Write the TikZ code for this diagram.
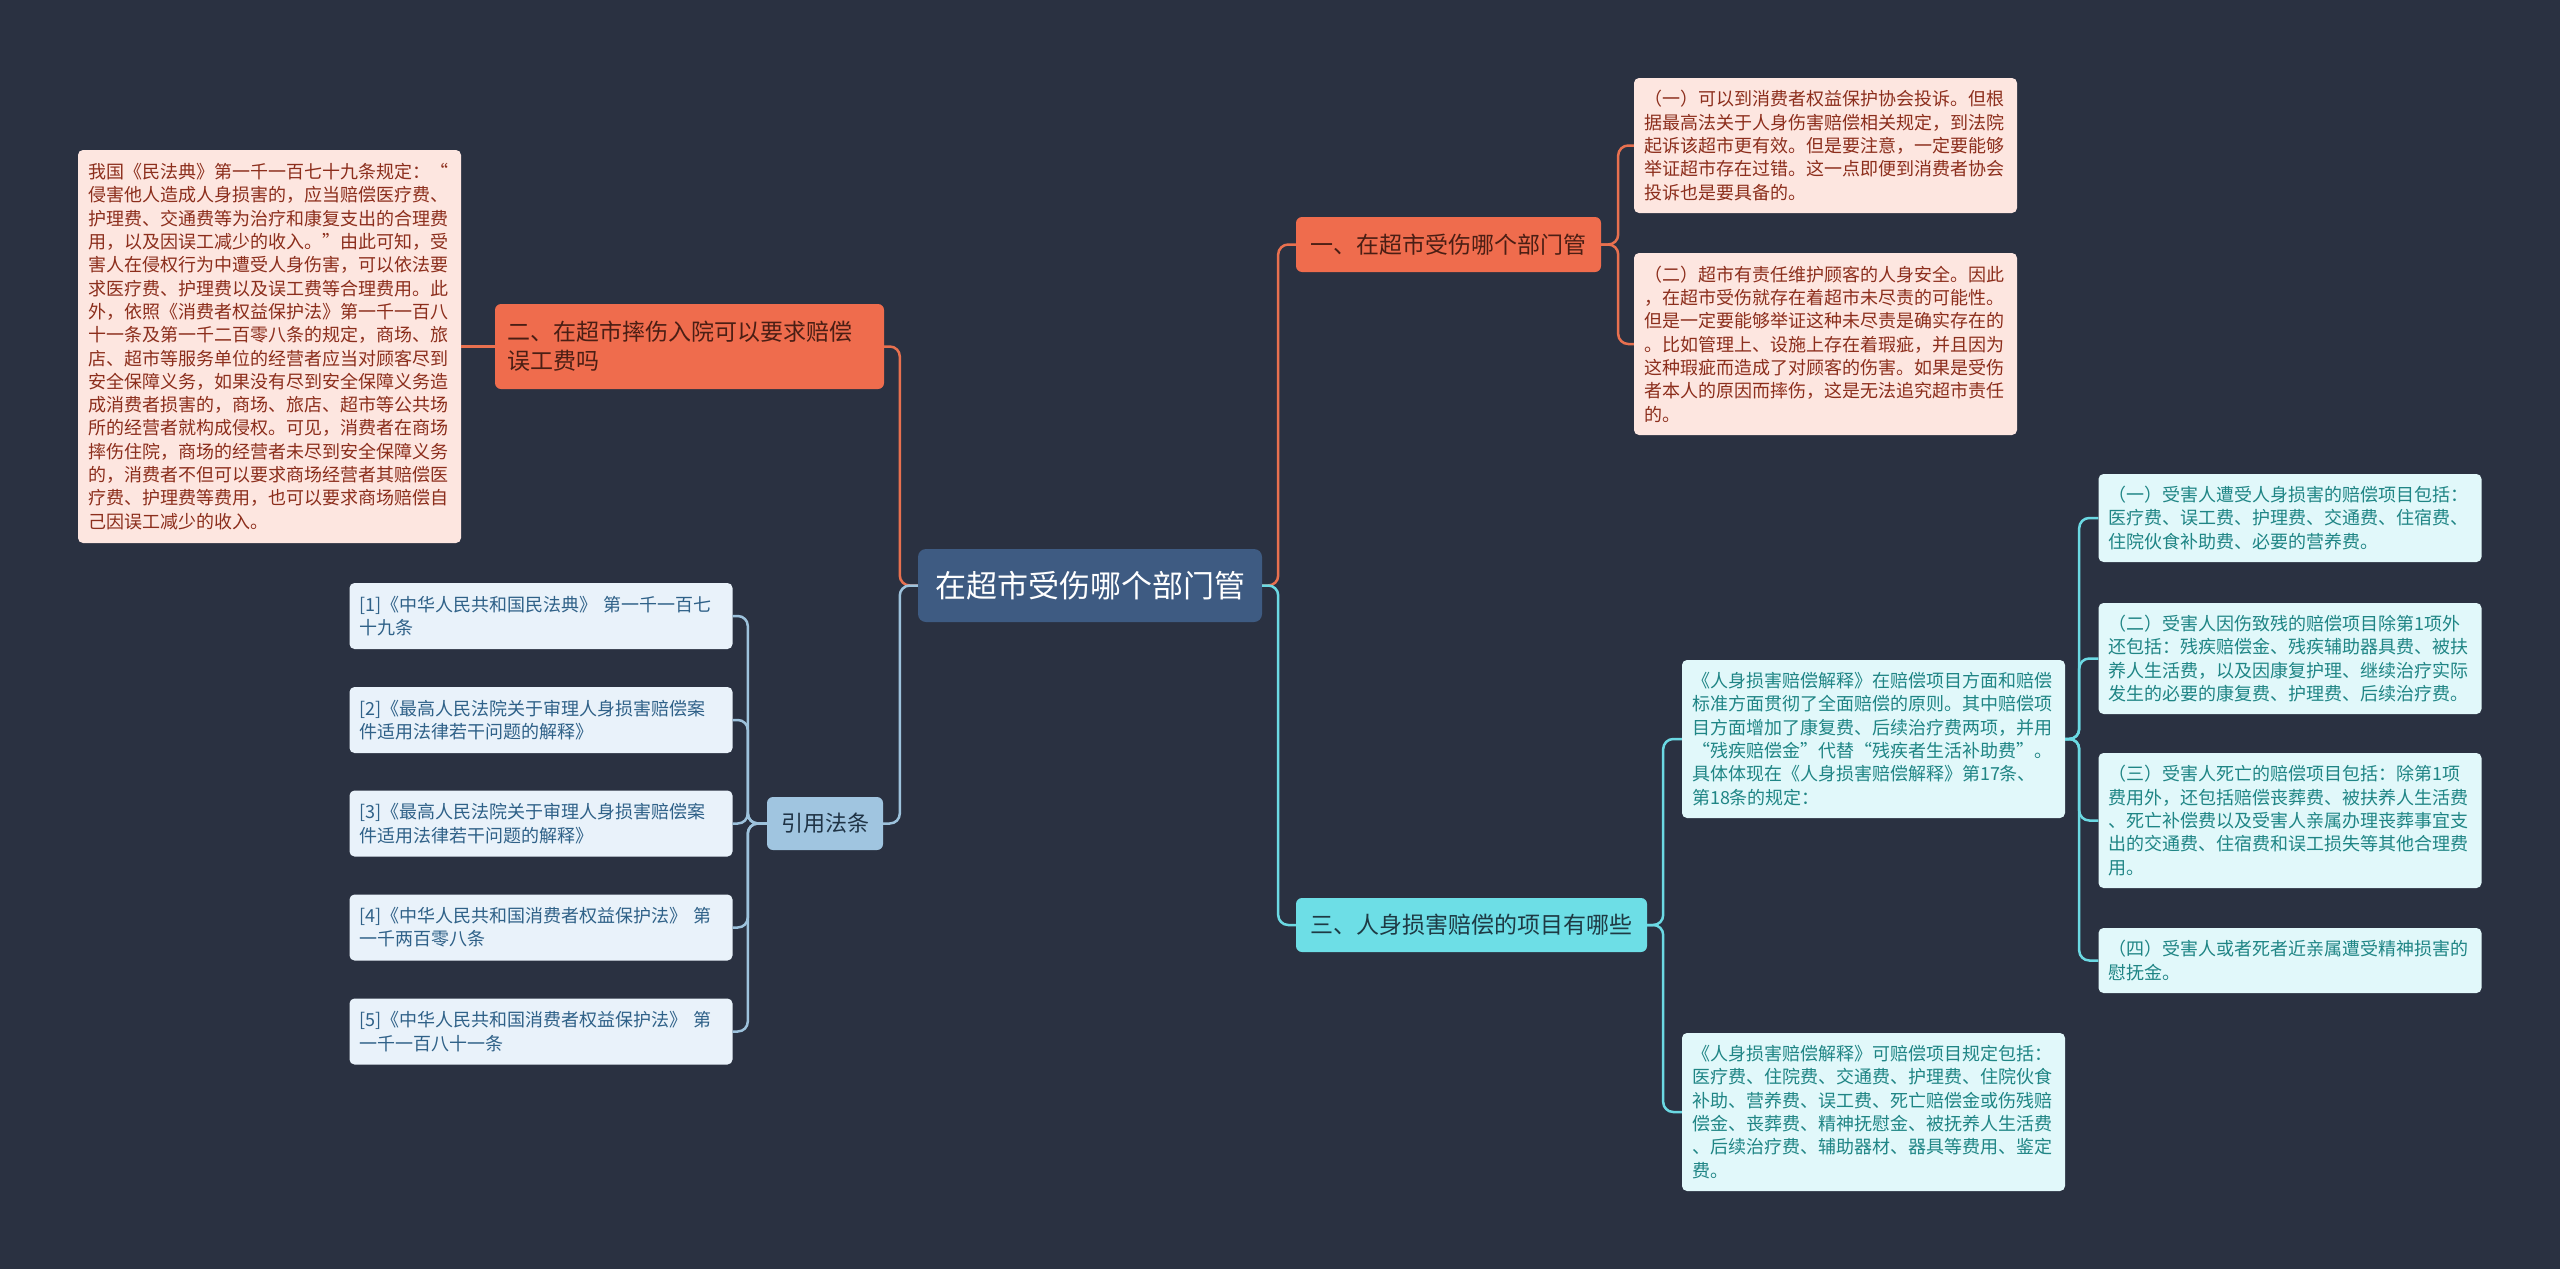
\documentclass[tikz,border=0pt]{standalone}
\usepackage{fontspec}
\setmainfont{Noto Sans CJK SC}
\definecolor{bg}{HTML}{2A3141}
\definecolor{rootfill}{HTML}{3E5B82}
\definecolor{redfill}{HTML}{EF6C4D}
\definecolor{redtext}{HTML}{4A1E14}
\definecolor{redleaffill}{HTML}{FDE6E0}
\definecolor{redleaftext}{HTML}{8C2E1C}
\definecolor{bluefill}{HTML}{A0C5E0}
\definecolor{bluetext}{HTML}{1F3345}
\definecolor{refleaffill}{HTML}{E9F2FA}
\definecolor{refleaftext}{HTML}{2F6188}
\definecolor{cyanfill}{HTML}{6DDEE6}
\definecolor{cyantext}{HTML}{1E3A44}
\definecolor{cyanleaffill}{HTML}{E1F8FA}
\definecolor{cyanleaftext}{HTML}{1F8585}
\definecolor{redline}{HTML}{E8704F}
\definecolor{blueline}{HTML}{9DC2DC}
\definecolor{cyanline}{HTML}{6BD9E3}
\begin{document}
\begin{tikzpicture}[x=1pt, y=-1pt,
    root/.style={fill=rootfill, text=white, rounded corners=8pt, minimum width=344pt, minimum height=73pt, inner sep=0pt, font=\fontsize{31}{36}\selectfont},
    topic/.style={rounded corners=6pt, inner xsep=12pt, inner ysep=0pt, font=\fontsize{23}{29}\selectfont},
    redtopic/.style={topic, fill=redfill, text=redtext},
    bluetopic/.style={topic, fill=bluefill, text=bluetext, font=\fontsize{22}{28}\selectfont},
    cyantopic/.style={topic, fill=cyanfill, text=cyantext},
    leaf/.style={rounded corners=5pt, inner xsep=10pt, inner ysep=0pt, text width=363pt, align=left, font=\fontsize{18}{23.3}\selectfont},
    redleaf/.style={leaf, fill=redleaffill, text=redleaftext},
    refleaf/.style={leaf, fill=refleaffill, text=refleaftext},
    cyanleaf/.style={leaf, fill=cyanleaffill, text=cyanleaftext},
    link/.style={line width=2.5pt, rounded corners=10pt},
    redlink/.style={link, draw=redline},
    bluelink/.style={link, draw=blueline},
    cyanlink/.style={link, draw=cyanline},
  ]
  \fill[bg] (0,0) rectangle (2560,1269);
  \useasboundingbox (0,0) rectangle (2560,1269);

  % centre and main topics
  \node[root] (root) at (1090,585.5) {在超市受伤哪个部门管};
  \node[redtopic, minimum width=305pt, minimum height=55pt] (b1) at (1448.5,244.5) {一、在超市受伤哪个部门管};
  \node[redtopic, minimum height=85pt, text width=365pt, align=left] (b2) at (689.5,346.5) {二、在超市摔伤入院可以要求赔偿\\误工费吗};
  \node[cyantopic, minimum width=351pt, minimum height=54pt] (b3) at (1471.5,925) {三、人身损害赔偿的项目有哪些};
  \node[bluetopic, minimum width=116pt, minimum height=53pt] (cite) at (825,823.5) {引用法条};

  % left leaves
  \node[redleaf, minimum height=393pt] (law) at (269.5,346.5) {我国《民法典》第一千一百七十九条规定：“\\侵害他人造成人身损害的，应当赔偿医疗费、\\护理费、交通费等为治疗和康复支出的合理费\\用，以及因误工减少的收入。”由此可知，受\\害人在侵权行为中遭受人身伤害，可以依法要\\求医疗费、护理费以及误工费等合理费用。此\\外，依照《消费者权益保护法》第一千一百八\\十一条及第一千二百零八条的规定，商场、旅\\店、超市等服务单位的经营者应当对顾客尽到\\安全保障义务，如果没有尽到安全保障义务造\\成消费者损害的，商场、旅店、超市等公共场\\所的经营者就构成侵权。可见，消费者在商场\\摔伤住院，商场的经营者未尽到安全保障义务\\的，消费者不但可以要求商场经营者其赔偿医\\疗费、护理费等费用，也可以要求商场赔偿自\\己因误工减少的收入。};
  \node[refleaf, minimum height=66pt] (r1) at (541,616) {[1]《中华人民共和国民法典》 第一千一百七\\十九条};
  \node[refleaf, minimum height=66pt] (r2) at (541,720) {[2]《最高人民法院关于审理人身损害赔偿案\\件适用法律若干问题的解释》};
  \node[refleaf, minimum height=66pt] (r3) at (541,823.5) {[3]《最高人民法院关于审理人身损害赔偿案\\件适用法律若干问题的解释》};
  \node[refleaf, minimum height=66pt] (r4) at (541,927.5) {[4]《中华人民共和国消费者权益保护法》 第\\一千两百零八条};
  \node[refleaf, minimum height=66pt] (r5) at (541,1031.5) {[5]《中华人民共和国消费者权益保护法》 第\\一千一百八十一条};

  % right leaves
  \node[redleaf, minimum height=135pt] (a1) at (1825.5,145.5) {（一）可以到消费者权益保护协会投诉。但根\\据最高法关于人身伤害赔偿相关规定，到法院\\起诉该超市更有效。但是要注意，一定要能够\\举证超市存在过错。这一点即便到消费者协会\\投诉也是要具备的。};
  \node[redleaf, minimum height=182pt] (a2) at (1825.5,344) {（二）超市有责任维护顾客的人身安全。因此\\，在超市受伤就存在着超市未尽责的可能性。\\但是一定要能够举证这种未尽责是确实存在的\\。比如管理上、设施上存在着瑕疵，并且因为\\这种瑕疵而造成了对顾客的伤害。如果是受伤\\者本人的原因而摔伤，这是无法追究超市责任\\的。};
  \node[cyanleaf, minimum height=158pt] (c1) at (1873.5,739) {《人身损害赔偿解释》在赔偿项目方面和赔偿\\标准方面贯彻了全面赔偿的原则。其中赔偿项\\目方面增加了康复费、后续治疗费两项，并用\\“残疾赔偿金”代替“残疾者生活补助费”。\\具体体现在《人身损害赔偿解释》第17条、\\第18条的规定：};
  \node[cyanleaf, minimum height=158pt] (c2) at (1873.5,1112) {《人身损害赔偿解释》可赔偿项目规定包括：\\医疗费、住院费、交通费、护理费、住院伙食\\补助、营养费、误工费、死亡赔偿金或伤残赔\\偿金、丧葬费、精神抚慰金、被抚养人生活费\\、后续治疗费、辅助器材、器具等费用、鉴定\\费。};
  \node[cyanleaf, minimum height=88pt] (d1) at (2290,518) {（一）受害人遭受人身损害的赔偿项目包括：\\医疗费、误工费、护理费、交通费、住宿费、\\住院伙食补助费、必要的营养费。};
  \node[cyanleaf, minimum height=111pt] (d2) at (2290,658.5) {（二）受害人因伤致残的赔偿项目除第1项外\\还包括：残疾赔偿金、残疾辅助器具费、被扶\\养人生活费，以及因康复护理、继续治疗实际\\发生的必要的康复费、护理费、后续治疗费。};
  \node[cyanleaf, minimum height=135pt] (d3) at (2290,820.5) {（三）受害人死亡的赔偿项目包括：除第1项\\费用外，还包括赔偿丧葬费、被扶养人生活费\\、死亡补偿费以及受害人亲属办理丧葬事宜支\\出的交通费、住宿费和误工损失等其他合理费\\用。};
  \node[cyanleaf, minimum height=65pt] (d4) at (2290,960.5) {（四）受害人或者死者近亲属遭受精神损害的\\慰抚金。};

  % connectors
  \draw[redlink] (root.east) -- ++(16,0) |- (b1.west);
  \draw[cyanlink] (root.east) -- ++(16,0) |- (b3.west);
  \draw[redlink] (root.west) -- ++(-18,0) |- (b2.east);
  \draw[bluelink] (root.west) -- ++(-18,0) |- (cite.east);
  \draw[redlink] (b2.west) -- (law.east);
  \draw[redlink] (b1.east) -- ++(17,0) |- (a1.west);
  \draw[redlink] (b1.east) -- ++(17,0) |- (a2.west);
  \foreach \i in {1,...,5}
    \draw[bluelink] (cite.west) -- ++(-19,0) |- (r\i.east);
  \draw[cyanlink] (b3.east) -- ++(16,0) |- (c1.west);
  \draw[cyanlink] (b3.east) -- ++(16,0) |- (c2.west);
  \foreach \d in {d1,d2,d3,d4}
    \draw[cyanlink] (c1.east) -- ++(14,0) |- (\d.west);
\end{tikzpicture}
\end{document}
